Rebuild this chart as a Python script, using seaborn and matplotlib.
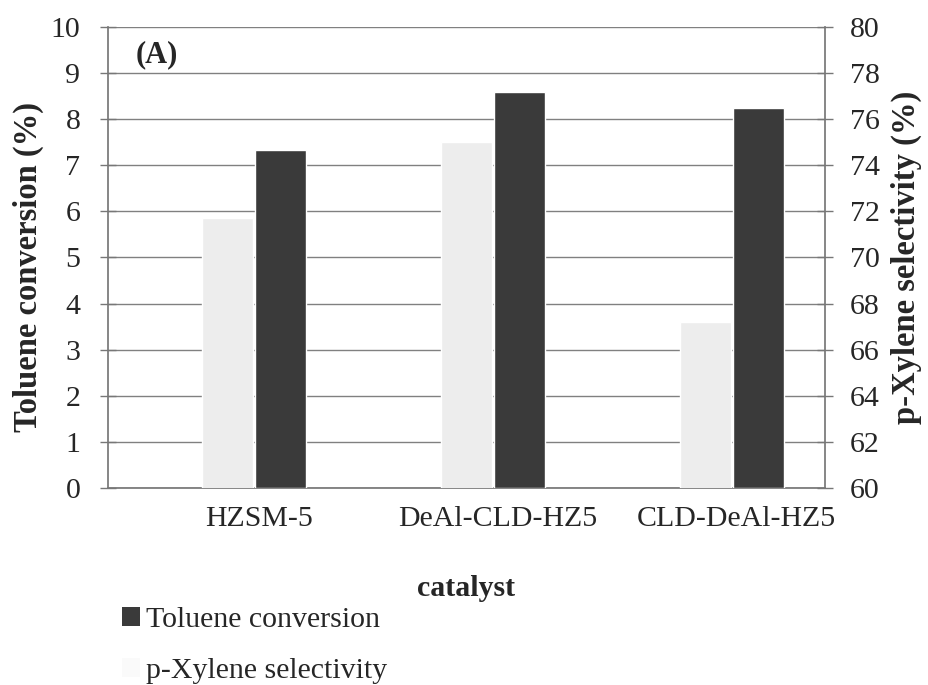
import numpy as np
import pandas as pd
import matplotlib
matplotlib.use("Agg")
import matplotlib.pyplot as plt
import seaborn as sns
from matplotlib.patches import Patch

catalysts = ["HZSM-5", "DeAl-CLD-HZ5", "CLD-DeAl-HZ5"]
toluene_conversion = [7.33, 8.59, 8.24]
pxylene_selectivity = [71.7, 75.0, 67.2]
left_ticks = list(range(0, 11))
right_ticks = list(range(60, 81, 2))

sns.set_theme(style="white")
plt.rcParams["font.family"] = ["Liberation Serif", "DejaVu Serif"]

FS = 21.5
fig = plt.figure(figsize=(9.29, 6.85), dpi=100)
ax = fig.add_axes([0.1163, 0.2876, 0.888 - 0.1163, 0.9606 - 0.2876])
ax2 = ax.twinx()

pos = np.arange(len(catalysts))
bw = 0.215
df_t = pd.DataFrame({"x": pos + 0.222, "y": toluene_conversion})
df_s = pd.DataFrame({"x": pos.astype(float), "y": pxylene_selectivity})

sns.barplot(data=df_t, x="x", y="y", native_scale=True, width=bw,
            color="#3a3a3a", saturation=1, ax=ax, zorder=3)
sns.barplot(data=df_s, x="x", y="y", native_scale=True, width=bw,
            color="#ededed", saturation=1, ax=ax2, zorder=3)

ax.set_xlim(-0.5, 2.5)
ax.set_ylim(0, 10)
ax2.set_ylim(60, 80)
ax.set_yticks(left_ticks)
ax2.set_yticks(right_ticks)
ax.set_yticklabels([str(t) for t in left_ticks], fontsize=FS)
ax2.set_yticklabels([str(t) for t in right_ticks], fontsize=FS)

ax.grid(axis="y", color="#808080", linewidth=1.0, zorder=0)
ax.set_axisbelow(True)

ax.set_xticks(pos + 0.13)
ax.set_xticklabels(catalysts, fontsize=FS)
ax.tick_params(axis="x", length=0, pad=13)
ax.tick_params(axis="y", direction="inout", length=12, width=1, color="#777777", pad=14)
ax2.tick_params(axis="y", direction="inout", length=12, width=1, color="#777777", pad=12)

for a in (ax, ax2):
    for s in a.spines.values():
        s.set_visible(False)
ax.spines["left"].set_visible(True)
ax.spines["left"].set_color("#777777")
ax.spines["bottom"].set_visible(True)
ax.spines["bottom"].set_color("#777777")
ax2.spines["right"].set_visible(True)
ax2.spines["right"].set_color("#777777")

ax.set_xlabel("catalyst", fontsize=FS, fontweight="bold", labelpad=31)
ax.set_ylabel("Toluene conversion (%)", fontsize=23.5, fontweight="bold")
ax2.set_ylabel("p-Xylene selectivity (%)", fontsize=23.5, fontweight="bold")
ax.yaxis.set_label_coords(-0.089, 0.48)
ax2.yaxis.set_label_coords(1.092, 0.50)

ax.text(0.038, 0.972, "(A)", transform=ax.transAxes, fontsize=22,
        fontweight="bold", va="top", ha="left")

handles = [Patch(facecolor="#3a3a3a", edgecolor="none"),
           Patch(facecolor="#fafafa", edgecolor="none")]
fig.legend(handles, ["Toluene conversion", "p-Xylene selectivity"],
           loc="upper left", bbox_to_anchor=(0.131, 0.114), frameon=False,
           fontsize=FS, handlelength=0.6, handleheight=0.6, handletextpad=0.2,
           labelspacing=0.85, borderaxespad=0, borderpad=0)

fig.savefig("out.png", dpi=100)
